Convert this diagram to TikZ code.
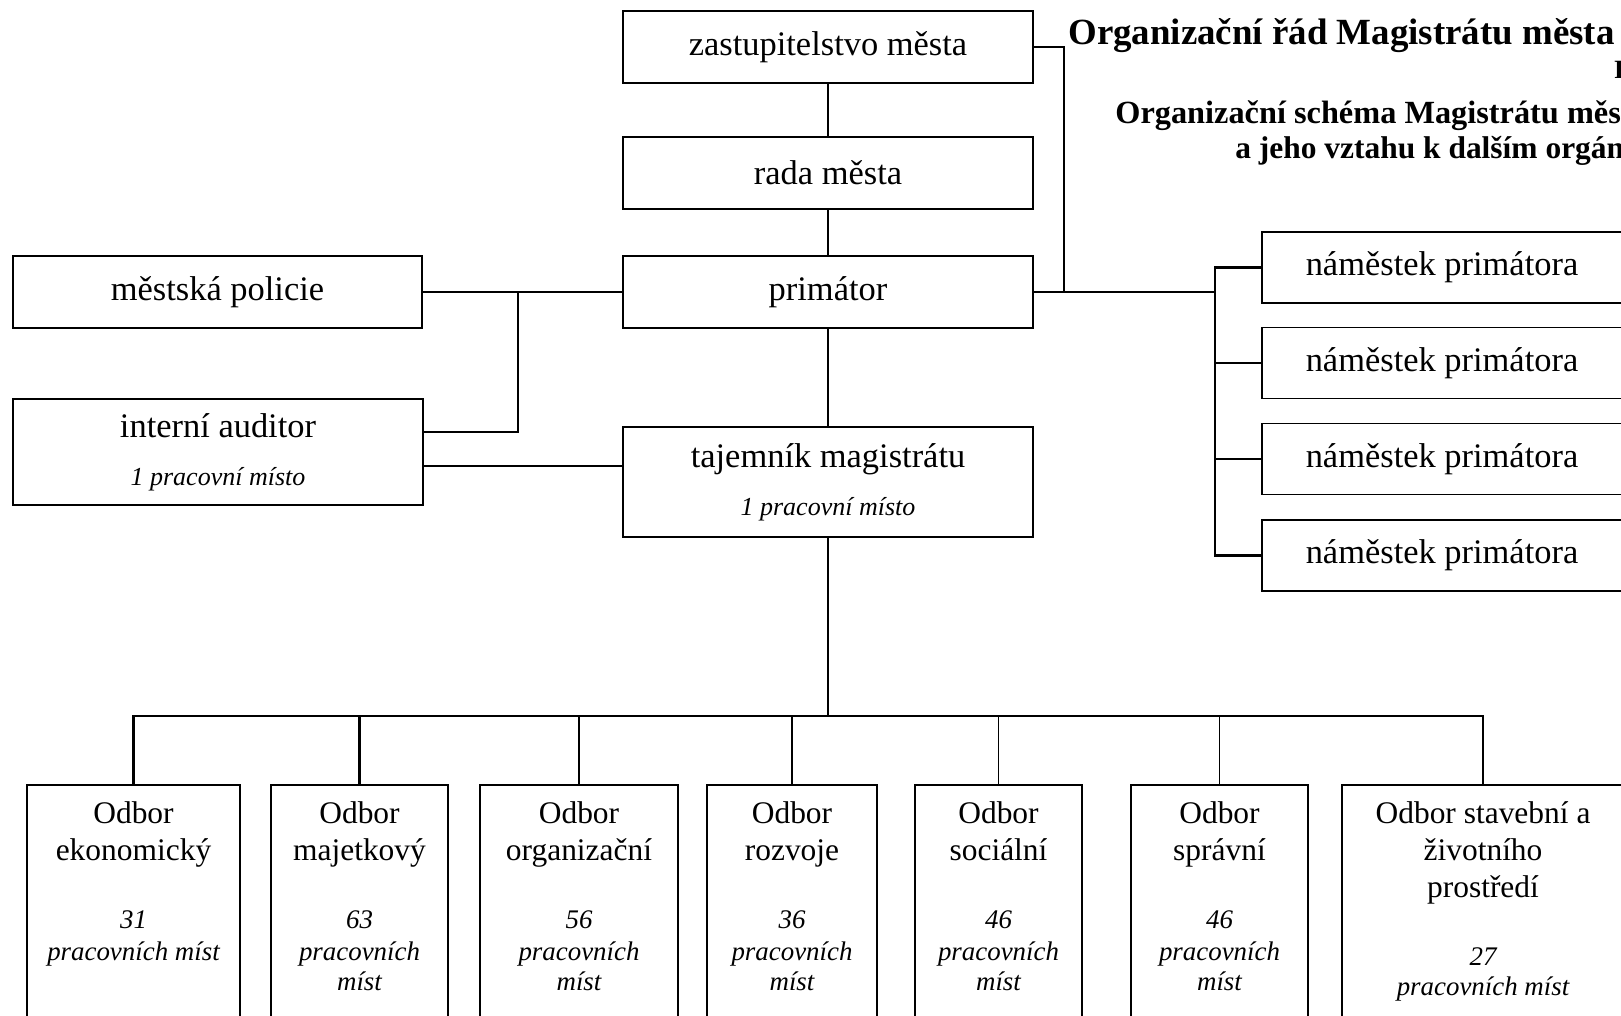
\documentclass[tikz,border=0pt]{standalone}
\usepackage{fontspec}
\setmainfont{Liberation Serif}
\usepackage{tikz}
\newcommand{\mistfont}{\fontsize{15.3}{18}\selectfont\itshape}
\newcommand{\subfont}{\fontsize{14.8}{18}\selectfont\itshape}
\tikzset{
  orgbox/.style={draw, line width=1pt, inner sep=0pt, minimum width=8.2cm, minimum height=1.44cm, align=center, font=\fontsize{19.6}{23.5}\selectfont},
  deptbox/.style={draw, line width=1pt, inner xsep=0pt, inner ysep=0.34cm, anchor=north, align=center, text depth=6cm, font=\fontsize{17.9}{21}\selectfont},
  link/.style={line width=1.1pt},
  thicklink/.style={line width=1.6pt},
  headline/.style={anchor=base west, inner sep=0pt, font=\bfseries\fontsize{17.9}{21}\selectfont}
}

\begin{document}
\begin{tikzpicture}[x=0.02cm, y=-0.02cm]
            \useasboundingbox (0,0) rectangle (1621,1016);
            \clip (0,0) rectangle (1621,1016);
            % title
            \node[headline, font=\bfseries\fontsize{21}{25}\selectfont] (titleA) at (1068,45) {Organizační řád Magistrátu města};
            \node[headline, font=\bfseries\fontsize{15}{18}\selectfont] (titleB) at (1614,79) {Příloha};
            \node[headline, font=\bfseries\fontsize{18.4}{21}\selectfont] (titleC) at (1115,124) {Organizační schéma Magistrátu města};
            \node[headline] (titleD) at (1235,159) {a jeho vztahu k dalším orgánům města};
            % city bodies
            \node[orgbox] (zast) at (828,47) {zastupitelstvo města};
            \node[orgbox] (rada) at (828,173) {rada města};
            \node[orgbox] (primator) at (828,292) {primátor};
            \node[orgbox, minimum width=8.18cm] (policie) at (217.5,292) {městská policie};
            \node[orgbox, minimum height=2.12cm] (auditor) at (218,452) {\rule{0pt}{14pt}interní auditor\\[4pt]{\subfont 1 pracovní místo}};
            \node[orgbox, minimum height=2.2cm] (tajemnik) at (828,482) {tajemník magistrátu\\[4pt]{\subfont 1 pracovní místo}};
            \node[orgbox, minimum width=7.2cm, minimum height=1.42cm] (nam1) at (1442,267.5) {náměstek primátora};
            \node[orgbox, minimum width=7.2cm, minimum height=1.42cm] (nam2) at (1442,363) {náměstek primátora};
            \node[orgbox, minimum width=7.2cm, minimum height=1.42cm] (nam3) at (1442,459) {náměstek primátora};
            \node[orgbox, minimum width=7.2cm, minimum height=1.42cm] (nam4) at (1442,555.5) {náměstek primátora};
            % departments
            \node[deptbox, minimum width=4.26cm] (ekon) at (133.5,784) {Odbor\\ekonomický\\[17.7pt]{\mistfont 31}\\[-2.8pt]{\mistfont pracovních míst}};
            \node[deptbox, minimum width=3.54cm] (majet) at (359.5,784) {Odbor\\majetkový\\[17.7pt]{\mistfont 63}\\[-2.8pt]{\mistfont pracovních}\\[-4pt]{\mistfont míst}};
            \node[deptbox, minimum width=3.96cm] (organ) at (579,784) {Odbor\\organizační\\[17.7pt]{\mistfont 56}\\[-2.8pt]{\mistfont pracovních}\\[-4pt]{\mistfont míst}};
            \node[deptbox, minimum width=3.4cm] (rozvoj) at (792,784) {Odbor\\rozvoje\\[17.7pt]{\mistfont 36}\\[-2.8pt]{\mistfont pracovních}\\[-4pt]{\mistfont míst}};
            \node[deptbox, minimum width=3.34cm] (social) at (998.5,784) {Odbor\\sociální\\[17.7pt]{\mistfont 46}\\[-2.8pt]{\mistfont pracovních}\\[-4pt]{\mistfont míst}};
            \node[deptbox, minimum width=3.54cm] (spravni) at (1219.5,784) {Odbor\\správní\\[17.7pt]{\mistfont 46}\\[-2.8pt]{\mistfont pracovních}\\[-4pt]{\mistfont míst}};
            \node[deptbox, minimum width=5.64cm] (staveb) at (1483,784) {Odbor stavební a\\životního\\prostředí\\[17.9pt]{\mistfont 27}\\[-4pt]{\mistfont pracovních míst}};
            % junctions
            \coordinate (audj) at (518,292);
            \coordinate (zastj) at (1064,292);
            \coordinate (trunk) at (1215,292);
            \coordinate (bus) at (828,716);
            % connectors
            \draw[link] (zast) -- (rada) -- (primator) -- (tajemnik);
            \draw[link] (policie.east) -- (primator.west);
            \draw[link] ([yshift=0.4cm]auditor.east) -| (audj);
            \draw[thicklink] ([yshift=-0.28cm]auditor.east) -- ([yshift=-0.28cm]auditor.east -| tajemnik.west);
            \draw[link] (zast.east) -| (zastj);
            \draw[link] (primator.east) -- (trunk);
            \draw[thicklink] (nam1.west) -| (trunk |- nam4.west) -- (nam4.west);
            \draw[link] (nam2.west) -- (nam2.west -| trunk);
            \draw[link] (nam3.west) -- (nam3.west -| trunk);
            \draw[link] (tajemnik) -- (bus);
            \draw[thicklink] (ekon.north) |- (bus);
            \draw[link] (bus) -| (staveb.north);
            \draw[thicklink] (majet.north) -- (majet.north |- bus);
            \draw[link] (organ.north) -- (organ.north |- bus);
            \draw[link] (rozvoj.north) -- (rozvoj.north |- bus);
            \draw[link] (social.north) -- (social.north |- bus);
            \draw[link] (spravni.north) -- (spravni.north |- bus);
\end{tikzpicture}
\end{document}
